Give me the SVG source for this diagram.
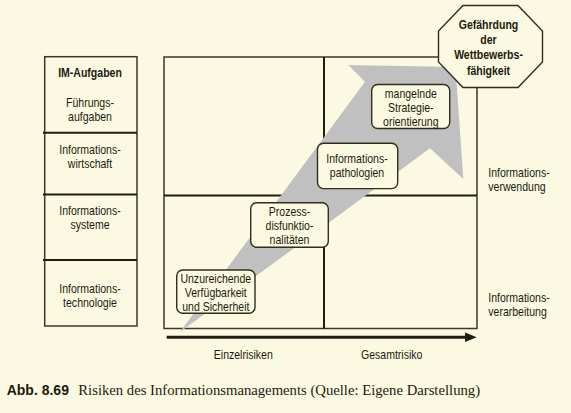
<svg xmlns="http://www.w3.org/2000/svg" width="571" height="413" viewBox="0 0 571 413">
<style>
.bg{fill:#FBF9E1}
.t{font-family:"Liberation Sans",Arial,sans-serif;font-size:13px;fill:#1c1b10}
.c{text-anchor:middle}
.b{font-weight:bold}
.box{fill:#FBF9E1;stroke:#2f2e1c;stroke-width:1.4}
.frame{fill:none;stroke:#3a3924;stroke-width:1.5}
.sep{stroke:#1f1e10;stroke-width:2;fill:none}
.cap{fill:#1c1b10}
</style>
<rect class="bg" x="0" y="0" width="571" height="413"/>

<g id="im-aufgaben">
<rect class="frame" x="44.7" y="56.7" width="92.3" height="269.3"/>
<line class="sep" x1="43" y1="132.7" x2="137" y2="132.7"/>
<line class="sep" x1="43" y1="194.5" x2="137" y2="194.5"/>
<line class="sep" x1="43" y1="260" x2="137" y2="260"/>
<text class="t c b" transform="translate(90,76.5) scale(0.81,1)">IM-Aufgaben</text>
<text class="t c" transform="translate(90,107) scale(0.81,1)"><tspan x="0" y="0">Führungs-</tspan><tspan x="0" y="14">aufgaben</tspan></text>
<text class="t c" transform="translate(90,153.5) scale(0.81,1)"><tspan x="0" y="0">Informations-</tspan><tspan x="0" y="14.5">wirtschaft</tspan></text>
<text class="t c" transform="translate(90,215) scale(0.81,1)"><tspan x="0" y="0">Informations-</tspan><tspan x="0" y="14.5">systeme</tspan></text>
<text class="t c" transform="translate(90,293.3) scale(0.81,1)"><tspan x="0" y="0">Informations-</tspan><tspan x="0" y="14">technologie</tspan></text>
</g>

<g id="matrix">
<rect class="frame" x="164" y="57" width="313" height="271.5"/>
<line class="sep" x1="324" y1="57" x2="324" y2="328.5"/>
<line class="sep" x1="164" y1="195.5" x2="477" y2="195.5"/>
</g>

<g id="trend-arrow">
<polygon fill="#C0C0C0" points="180,332 365,81.7 348.3,65 455.5,67 463.3,179 430,148.3"/>
</g>

<g id="connectors">
<line x1="166.7" y1="337.3" x2="467" y2="337.3" stroke="#1f1e10" stroke-width="3"/>
<polygon fill="#1f1e10" points="465,332.6 476.7,337.3 465,342"/>
</g>

<g id="node-verfuegbarkeit">
<rect class="box" x="176.7" y="270" width="78.3" height="43.3" rx="6"/>
<text class="t c" transform="translate(215.8,282.8) scale(0.81,1)"><tspan x="0" y="0">Unzureichende</tspan><tspan x="0" y="14">Verfügbarkeit</tspan><tspan x="0" y="28">und Sicherheit</tspan></text>
</g>

<g id="node-prozess">
<rect class="box" x="250.7" y="202.7" width="77.6" height="44.6" rx="6"/>
<text class="t c" transform="translate(289.5,216.3) scale(0.81,1)"><tspan x="0" y="0">Prozess-</tspan><tspan x="0" y="14">disfunktio-</tspan><tspan x="0" y="28">nalitäten</tspan></text>
</g>

<g id="node-pathologien">
<rect class="box" x="317.5" y="143.3" width="80.2" height="45.3" rx="6"/>
<text class="t c" transform="translate(357,162.6) scale(0.81,1)"><tspan x="0" y="0">Informations-</tspan><tspan x="0" y="14">pathologien</tspan></text>
</g>

<g id="node-strategie">
<rect class="box" x="371.7" y="84.5" width="78" height="44" rx="6"/>
<text class="t c" transform="translate(410.8,97.6) scale(0.81,1)"><tspan x="0" y="0">mangelnde</tspan><tspan x="0" y="14">Strategie-</tspan><tspan x="0" y="28">orientierung</tspan></text>
</g>

<g id="node-wettbewerb">
<polygon class="box" points="463,5.5 518,5.5 542.5,31 542.5,62 518,87.5 463,87.5 438.5,62 438.5,31"/>
<text class="t c b" transform="translate(488.5,29) scale(0.81,1)"><tspan x="0" y="0">Gefährdung</tspan><tspan x="0" y="15.2">der</tspan><tspan x="0" y="30.4">Wettbewerbs-</tspan><tspan x="0" y="45.6">fähigkeit</tspan></text>
</g>

<g id="labels">
<text class="t" transform="translate(488.3,176.7) scale(0.81,1)"><tspan x="0" y="0">Informations-</tspan><tspan x="0" y="14.2">verwendung</tspan></text>
<text class="t" transform="translate(488.3,301.7) scale(0.81,1)"><tspan x="0" y="0">Informations-</tspan><tspan x="0" y="14.5">verarbeitung</tspan></text>
<text class="t c" transform="translate(243.3,359) scale(0.81,1)">Einzelrisiken</text>
<text class="t c" transform="translate(391.7,359) scale(0.81,1)">Gesamtrisiko</text>
</g>

<g id="caption">
<text class="cap" x="6.7" y="395" style="font-family:'Liberation Sans',Arial,sans-serif;font-size:14px;font-weight:bold">Abb. 8.69</text>
<text class="cap" x="78.3" y="395" style="font-family:'Liberation Serif','Times New Roman',serif;font-size:14.7px">Risiken des Informationsmanagements (Quelle: Eigene Darstellung)</text>
</g>
</svg>
